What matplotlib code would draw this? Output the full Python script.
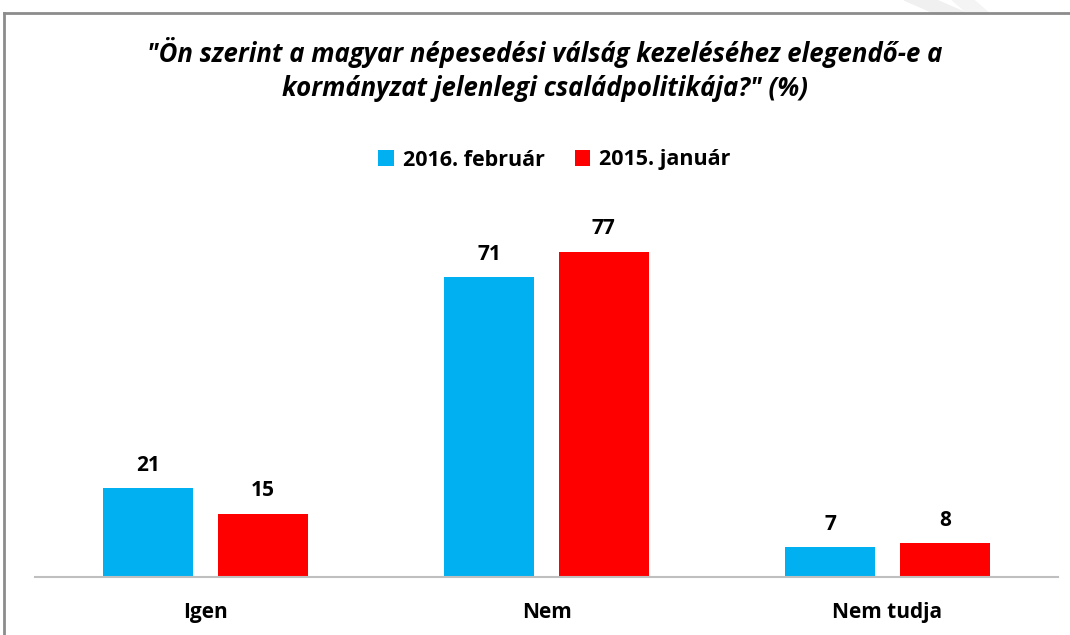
import matplotlib.pyplot as plt
import numpy as np
from matplotlib.patches import Polygon
from matplotlib.lines import Line2D

categories = ['Igen', 'Nem', 'Nem tudja']
series_names = ['2016. február', '2015. január']
values_2016 = [21, 71, 7]
values_2015 = [15, 77, 8]
colors = ['#00B0F0', '#FF0000']

plt.rcParams['font.family'] = ['Open Sans', 'DejaVu Sans']

fig = plt.figure(figsize=(10.7, 6.35), dpi=100)

# faint background shapes (top right) and slide frame
fig.patches.append(Polygon([[0.845, 1.0], [0.875, 1.0], [0.905, 0.978], [0.875, 0.978]],
                           closed=True, transform=fig.transFigure, color='#F0F0F0', zorder=0))
fig.patches.append(Polygon([[0.89, 1.0], [0.91, 1.0], [0.925, 0.978], [0.905, 0.978]],
                           closed=True, transform=fig.transFigure, color='#F4F4F4', zorder=0))
fig.lines.append(Line2D([0.004, 1.0], [1 - 13 / 635, 1 - 13 / 635], transform=fig.transFigure,
                        color='#8C8C8C', lw=2))
fig.lines.append(Line2D([4 / 1070, 4 / 1070], [0, 1 - 13 / 635], transform=fig.transFigure,
                        color='#8C8C8C', lw=2))

ax = fig.add_axes([35 / 1070, 58 / 635, 1023 / 1070, 338 / 635])
x = np.arange(len(categories))
w = 0.265
off = 0.168
b1 = ax.bar(x - off, values_2016, w, color=colors[0], label=series_names[0])
b2 = ax.bar(x + off, values_2015, w, color=colors[1], label=series_names[1])

for bars in (b1, b2):
    for rect in bars:
        ax.annotate(f'{int(rect.get_height())}',
                    (rect.get_x() + rect.get_width() / 2, rect.get_height()),
                    xytext=(0, 9), textcoords='offset points', ha='center', va='bottom',
                    fontsize=15, fontweight='bold')

ax.set_xlim(-0.5, 2.5)
ax.set_ylim(0, 80)
ax.set_yticks([])
ax.set_xticks(x)
ax.set_xticklabels(categories, fontsize=15, fontweight='bold')
ax.tick_params(axis='x', length=0, pad=18)
for s in ['top', 'right', 'left']:
    ax.spines[s].set_visible(False)
ax.spines['bottom'].set_color('#BFBFBF')
ax.spines['bottom'].set_linewidth(1.5)

fig.text(0.509, 1 - 53 / 635, '"Ön szerint a magyar népesedési válság kezeléséhez elegendő-e a',
         ha='center', va='center', fontsize=18.5, fontweight='bold', fontstyle='italic')
fig.text(0.509, 1 - 88 / 635, 'kormányzat jelenlegi családpolitikája?" (%)',
         ha='center', va='center', fontsize=18.5, fontweight='bold', fontstyle='italic')

fig.legend(handles=[b1, b2], loc='center', bbox_to_anchor=(0.518, 1 - 160 / 635), ncol=2,
           frameon=False, prop={'size': 15.5, 'weight': 'bold'}, handlelength=0.72,
           handleheight=0.72, handletextpad=0.4, columnspacing=1.4)

fig.savefig('out.png', dpi=100, facecolor='white')
